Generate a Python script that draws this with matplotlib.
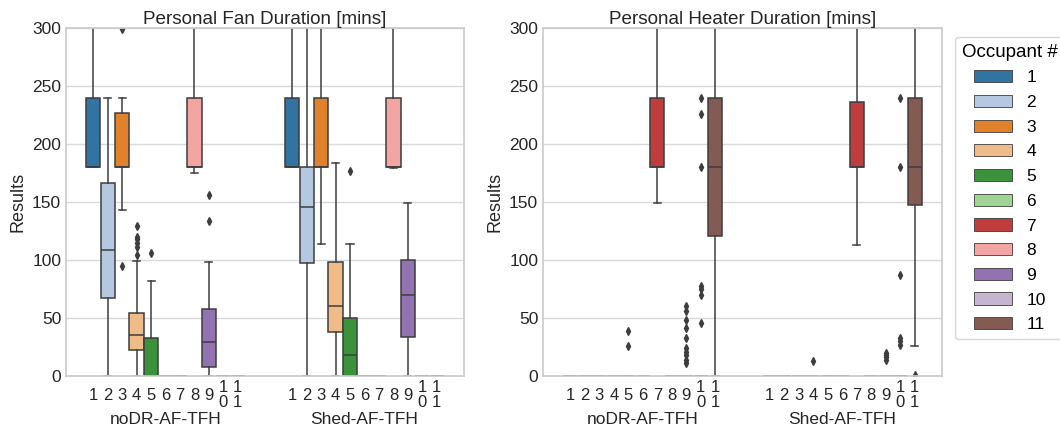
import colorsys

import matplotlib
matplotlib.use("Agg")
import matplotlib.pyplot as plt
from matplotlib.patches import Patch

plt.rcParams["font.family"] = ["Liberation Sans", "DejaVu Sans"]

# %%
# Data (box statistics per scenario, per occupant)
# ----------------------------------------------------------------------
occupants = [str(i) for i in range(1, 12)]
scenarios = ["noDR-AF-TFH", "Shed-AF-TFH"]

# Personal fan duration [mins]; rows = scenarios, columns = occupants 1..11
fan_q1 = [[180, 67, 180, 22, 0, 0, 0, 180, 8, 0, 0],
          [180, 97, 180, 38, 0, 0, 0, 180, 34, 0, 0]]
fan_med = [[180, 109, 180, 35, 0, 0, 0, 180, 29, 0, 0],
           [180, 146, 180, 60, 18, 0, 0, 180, 70, 0, 0]]
fan_q3 = [[240, 166, 227, 54, 33, 0, 0, 240, 58, 0, 0],
          [240, 180, 240, 98, 50, 0, 0, 240, 100, 0, 0]]
fan_whislo = [[180, 0, 143, 0, 0, 0, 0, 175, 0, 0, 0],
              [180, 0, 114, 0, 0, 0, 0, 179, 0, 0, 0]]
fan_whishi = [[420, 240, 240, 99, 82, 0, 0, 420, 98, 0, 0],
              [420, 420, 420, 184, 114, 0, 0, 420, 149, 0, 0]]
fan_fliers = [{3: [95, 299], 4: [104, 111, 115, 118, 120, 129], 5: [106], 9: [134, 156]},
              {5: [177]}]

# Personal heater duration [mins]
heat_q1 = [[0, 0, 0, 0, 0, 0, 180, 0, 0, 0, 121],
           [0, 0, 0, 0, 0, 0, 180, 0, 0, 0, 147]]
heat_med = [[0, 0, 0, 0, 0, 0, 180, 0, 0, 0, 180],
            [0, 0, 0, 0, 0, 0, 180, 0, 0, 0, 180]]
heat_q3 = [[0, 0, 0, 0, 0, 0, 240, 0, 0, 0, 240],
           [0, 0, 0, 0, 0, 0, 236, 0, 0, 0, 240]]
heat_whislo = [[0, 0, 0, 0, 0, 0, 149, 0, 0, 0, 0],
               [0, 0, 0, 0, 0, 0, 113, 0, 0, 0, 26]]
heat_whishi = [[0, 0, 0, 0, 0, 0, 420, 0, 0, 0, 420],
               [0, 0, 0, 0, 0, 0, 420, 0, 0, 0, 420]]
heat_fliers = [{5: [26, 39], 9: [11, 14, 18, 21, 24, 33, 41, 48, 56, 60],
                10: [46, 70, 75, 78, 180, 226, 240]},
               {4: [13], 9: [14, 16, 18, 20], 10: [27, 30, 33, 87, 180, 240], 11: [1]}]

# %%
# Colours: tab20 desaturated like seaborn (saturation=0.75)
# ---------------------------------------------------------
def desaturate(c, prop=0.75):
    h, l, s = colorsys.rgb_to_hls(*matplotlib.colors.to_rgb(c))
    return colorsys.hls_to_rgb(h, l, s * prop)

colors = [desaturate(plt.cm.tab20(i)) for i in range(len(occupants))]
line_gray = "#3d3d3d"
text_color = "#262626"

n = len(occupants)
box_w = 0.8 / n


def draw_panel(ax, title, q1, med, q3, wlo, whi, fliers):
    stats, positions, faces, labels = [], [], [], []
    for g in range(len(scenarios)):
        for i in range(n):
            stats.append(dict(q1=q1[g][i], med=med[g][i], q3=q3[g][i],
                              whislo=wlo[g][i], whishi=whi[g][i],
                              fliers=fliers[g].get(i + 1, [])))
            positions.append(g - 0.4 + box_w * (i + 0.5))
            faces.append(colors[i])
            labels.append(occupants[i])
    res = ax.bxp(stats, positions=positions, widths=box_w * 0.98,
                 patch_artist=True, manage_ticks=False,
                 boxprops=dict(edgecolor=line_gray, linewidth=1.1),
                 medianprops=dict(color=line_gray, linewidth=1.1),
                 whiskerprops=dict(color=line_gray, linewidth=1.1),
                 capprops=dict(color=line_gray, linewidth=1.1),
                 flierprops=dict(marker="d", markerfacecolor=line_gray,
                                 markeredgecolor=line_gray, markersize=4))
    for box, fc in zip(res["boxes"], faces):
        box.set_facecolor(fc)

    ax.set_xlim(-0.5, len(scenarios) - 0.5)
    ax.set_ylim(0, 300)
    ax.set_yticks(range(0, 301, 50))
    ax.set_xticks(range(len(scenarios)))
    ax.set_xticklabels(scenarios, fontsize=12.5, color=text_color)
    ax.tick_params(axis="x", length=0, pad=26)
    ax.tick_params(axis="y", length=0, labelsize=12.5, labelcolor=text_color)
    ax.yaxis.grid(True, color=".85", linewidth=1)
    ax.set_axisbelow(True)
    for sp in ax.spines.values():
        sp.set_color(".8")
        sp.set_linewidth(1.25)
    ax.set_ylabel("Results", fontsize=13, color=text_color)
    ax.set_title(title, fontsize=13.6, color=text_color, pad=3)

    # occupant numbers under each box, two-digit ones stacked
    trans = ax.get_xaxis_transform()
    for p, lab in zip(positions, labels):
        ax.text(p, -0.055, "\n".join(lab), transform=trans, ha="center",
                va="center", fontsize=12, linespacing=0.95, color=text_color)


fig = plt.figure(figsize=(10.6, 4.34), dpi=100)
ax1 = fig.add_axes([0.0623, 0.1336, 0.3754, 0.8019])
ax2 = fig.add_axes([0.5123, 0.1336, 0.3764, 0.8019])

draw_panel(ax1, "Personal Fan Duration [mins]", fan_q1, fan_med, fan_q3,
           fan_whislo, fan_whishi, fan_fliers)
draw_panel(ax2, "Personal Heater Duration [mins]", heat_q1, heat_med, heat_q3,
           heat_whislo, heat_whishi, heat_fliers)

handles = [Patch(facecolor=c, edgecolor=line_gray, linewidth=0.6) for c in colors]
ax2.legend(handles, occupants, title="Occupant #", loc="upper left",
           bbox_to_anchor=(1.033, 0.975), borderaxespad=0, fontsize=12.5,
           title_fontsize=13.5, frameon=True, edgecolor=".8", handlelength=2.2,
           labelspacing=0.55)

fig.savefig("out.png", dpi=100)
